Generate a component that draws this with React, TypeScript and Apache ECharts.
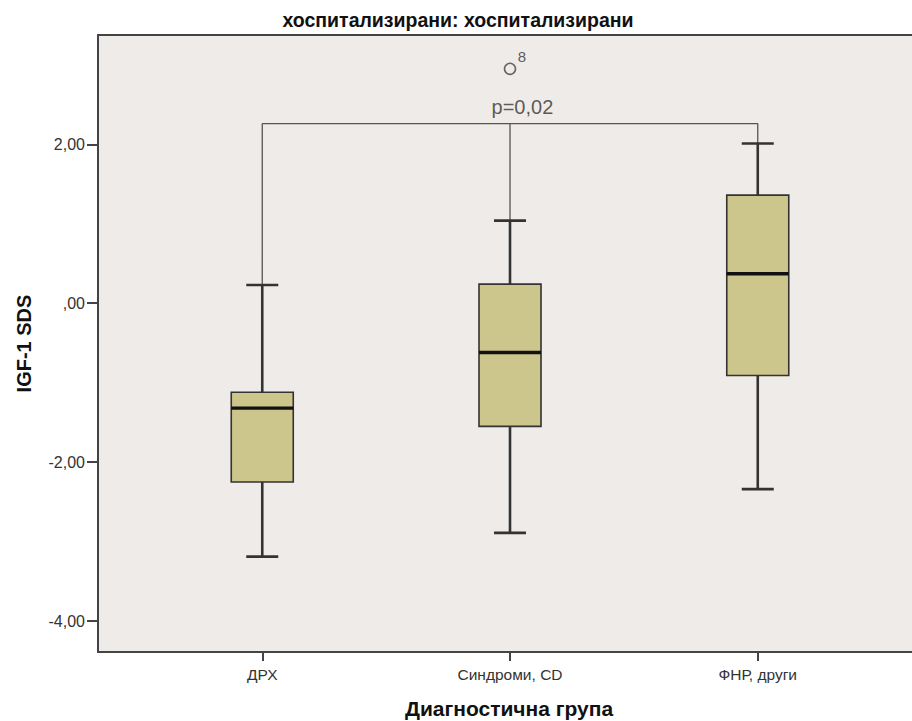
import React, { useEffect, useRef } from "react";
import * as echarts from "echarts";

const categories = ["ДРХ", "Синдроми, CD", "ФНР, други"];
const minValues = [-3.19, -2.89, -2.34];
const q1Values = [-2.25, -1.55, -0.91];
const medianValues = [-1.32, -0.62, 0.37];
const q3Values = [-1.12, 0.24, 1.36];
const maxValues = [0.23, 1.04, 2.01];
const outlierPoints = [[1, 2.95]];
const outlierLabels = ["8"];
const yTickValues = [-4, -2, 0, 2];
const yTickLabels = ["-4,00", "-2,00", ",00", "2,00"];
const bracketY = 2.26;
const pLabel = "p=0,02";
const pLabelPos = [1.05, 2.47];

const chartTitle = "хоспитализирани: хоспитализирани";
const xTitle = "Диагностична група";
const yTitle = "IGF-1 SDS";

const FONT = "'Liberation Sans', Arial, sans-serif";

export default function App() {
  const ref = useRef<HTMLDivElement>(null);
  useEffect(() => {
    document.body.style.margin = "0";
    document.body.style.overflow = "hidden";
    if (!ref.current) return;
    const chart = echarts.init(ref.current, null, { renderer: "svg" });
    const boxData = categories.map((_, i) => [
      i,
      minValues[i],
      q1Values[i],
      medianValues[i],
      q3Values[i],
      maxValues[i],
    ]);
    const BOX_W = 62;
    const CAP_W = 32;
    const GRID_W = 840;
    const X_MIN = -0.663;
    const X_MAX = X_MIN + GRID_W / 247.75;
    const option: any = {
      animation: false,
      backgroundColor: "#ffffff",
      textStyle: { fontFamily: FONT },
      graphic: [
        {
          type: "text",
          x: 458,
          y: 20,
          style: {
            text: chartTitle,
            fontFamily: "'Liberation Sans Narrow', 'Liberation Sans', Arial",
            fontWeight: "bold",
            fontSize: 19.5,
            fill: "#111",
            textAlign: "center",
            textVerticalAlign: "middle",
          },
        },
        {
          type: "text",
          x: 509,
          y: 708,
          style: {
            text: xTitle,
            fontFamily: FONT,
            fontWeight: "bold",
            fontSize: 21,
            fill: "#111",
            textAlign: "center",
            textVerticalAlign: "middle",
          },
        },
      ],
      grid: {
        left: 98,
        top: 35,
        width: GRID_W,
        bottom: 69,
        show: true,
        backgroundColor: "#EFEBE8",
        borderWidth: 0,
        outerBoundsMode: "none",
        containLabel: false,
      },
      xAxis: [
        {
          type: "value",
          min: X_MIN,
          max: X_MAX,
          splitLine: { show: false },
          axisLine: { show: true, onZero: false, lineStyle: { color: "#444", width: 2 } },
          axisTick: {
            show: true,
            customValues: [0, 1, 2],
            length: 9,
            lineStyle: { color: "#444", width: 2 },
          },
          axisLabel: {
            customValues: [0, 1, 2],
            formatter: (v: number) => categories[Math.round(v)],
            fontSize: 15.5,
            color: "#333",
            margin: 14,
            fontFamily: FONT,
          },
        },
        {
          type: "value",
          position: "top",
          min: X_MIN,
          max: X_MAX,
          splitLine: { show: false },
          axisLine: { show: true, onZero: false, lineStyle: { color: "#444", width: 2 } },
          axisTick: { show: false },
          axisLabel: { show: false },
        },
      ],
      yAxis: {
        type: "value",
        min: -4.39,
        max: 3.376,
        splitLine: { show: false },
        axisLine: { show: true, onZero: false, lineStyle: { color: "#444", width: 2 } },
        axisTick: {
          show: true,
          customValues: yTickValues,
          length: 11,
          lineStyle: { color: "#444", width: 2 },
        },
        axisLabel: {
          customValues: yTickValues,
          formatter: (v: number) => yTickLabels[yTickValues.indexOf(v)],
          fontSize: 16,
          color: "#333",
          margin: 13,
          fontFamily: FONT,
        },
        name: yTitle,
        nameLocation: "middle",
        nameGap: 64,
        nameTextStyle: {
          fontSize: 20,
          fontWeight: "bold",
          color: "#111",
          fontFamily: FONT,
        },
      },
      series: [
        {
          type: "line",
          data: [
            [0, maxValues[0]],
            [0, bracketY],
            [2, bracketY],
            [2, maxValues[2]],
          ],
          showSymbol: false,
          symbol: "none",
          lineStyle: { color: "#555", width: 1.3 },
          z: 1,
        },
        {
          type: "line",
          data: [
            [1, bracketY],
            [1, maxValues[1]],
          ],
          showSymbol: false,
          symbol: "none",
          lineStyle: { color: "#555", width: 1.3 },
          z: 1,
        },
        {
          type: "custom",
          data: boxData,
          encode: { x: 0, y: [1, 2, 3, 4, 5] },
          z: 3,
          renderItem: (params: any, api: any) => {
            const x = api.value(0);
            const pMin = api.coord([x, api.value(1)]);
            const pQ1 = api.coord([x, api.value(2)]);
            const pMed = api.coord([x, api.value(3)]);
            const pQ3 = api.coord([x, api.value(4)]);
            const pMax = api.coord([x, api.value(5)]);
            const cx = pMed[0];
            const hb = BOX_W / 2;
            const hc = CAP_W / 2;
            const wStyle = { stroke: "#333", lineWidth: 2.6 };
            return {
              type: "group",
              children: [
                { type: "line", shape: { x1: cx, y1: pQ3[1], x2: cx, y2: pMax[1] }, style: wStyle },
                { type: "line", shape: { x1: cx, y1: pQ1[1], x2: cx, y2: pMin[1] }, style: wStyle },
                { type: "line", shape: { x1: cx - hc, y1: pMax[1], x2: cx + hc, y2: pMax[1] }, style: wStyle },
                { type: "line", shape: { x1: cx - hc, y1: pMin[1], x2: cx + hc, y2: pMin[1] }, style: wStyle },
                {
                  type: "rect",
                  shape: { x: cx - hb, y: pQ3[1], width: BOX_W, height: pQ1[1] - pQ3[1] },
                  style: { fill: "#CCC58C", stroke: "#333", lineWidth: 1.6 },
                },
                {
                  type: "line",
                  shape: { x1: cx - hb, y1: pMed[1], x2: cx + hb, y2: pMed[1] },
                  style: { stroke: "#111", lineWidth: 3.4 },
                },
              ],
            };
          },
        },
        {
          type: "scatter",
          data: outlierPoints,
          symbol: "circle",
          symbolSize: 11,
          itemStyle: { color: "rgba(0,0,0,0)", borderColor: "#444", borderWidth: 1.6 },
          label: {
            show: true,
            formatter: (p: any) => outlierLabels[p.dataIndex],
            position: [14, -14],
            fontSize: 15,
            color: "#333",
            fontFamily: FONT,
          },
          z: 4,
        },
        {
          type: "scatter",
          data: [pLabelPos],
          symbolSize: 1,
          itemStyle: { color: "rgba(0,0,0,0)" },
          label: {
            show: true,
            formatter: pLabel,
            position: "inside",
            fontSize: 20,
            color: "#333",
            fontFamily: FONT,
          },
          z: 4,
        },
      ],
    };
    chart.setOption(option);
    return () => chart.dispose();
  }, []);
  return <div ref={ref} style={{ width: 912, height: 721 }} />;
}
